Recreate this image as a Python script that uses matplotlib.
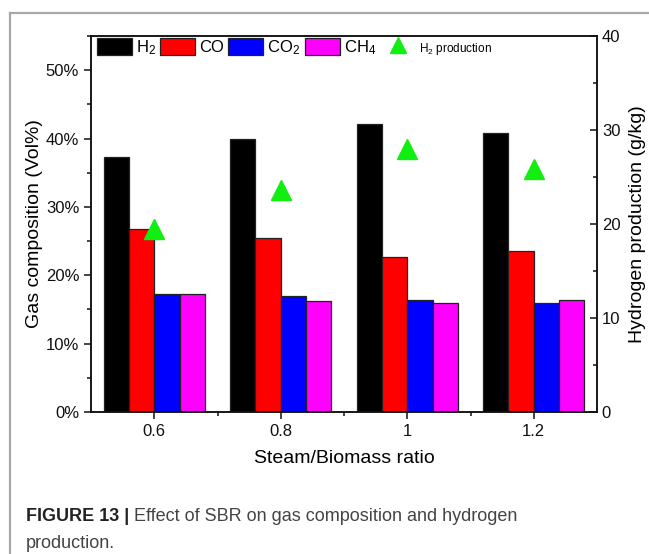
import matplotlib
matplotlib.use("Agg")
import matplotlib.pyplot as plt
from matplotlib.patches import Patch
from matplotlib.lines import Line2D
from matplotlib.ticker import FixedLocator, MultipleLocator, PercentFormatter

plt.rcParams['font.family'] = ['Liberation Sans', 'DejaVu Sans']
plt.rcParams['mathtext.fontset'] = 'custom'
plt.rcParams['mathtext.rm'] = 'Liberation Sans'
plt.rcParams['mathtext.it'] = 'Liberation Sans:italic'

# Steam/Biomass ratio groups
sbr = [0.6, 0.8, 1.0, 1.2]
sbr_labels = ['0.6', '0.8', '1', '1.2']

# Gas composition (Vol%)
h2 = [37.3, 39.9, 42.2, 40.8]
co = [26.8, 25.5, 22.6, 23.6]
co2 = [17.3, 16.9, 16.4, 16.0]
ch4 = [17.2, 16.2, 15.9, 16.4]

# Hydrogen production (g/kg)
h2_prod = [19.5, 23.6, 28.0, 25.8]

series = [h2, co, co2, ch4]
names = ['H$_2$', 'CO', 'CO$_2$', 'CH$_4$']
colors = ['#000000', '#ff0000', '#0000ff', '#ff00ff']
offsets = [-0.06, -0.02, 0.02, 0.06]
bar_w = 0.04

fig = plt.figure(figsize=(6.49, 5.54), dpi=100)
ax = fig.add_axes([91/649, 1-412/554, (597-91)/649, (412-36)/554])
ax2 = ax.twinx()

for vals, col, off in zip(series, colors, offsets):
    ax.bar([x + off for x in sbr], vals, width=bar_w, color=col,
           edgecolor='#222222', linewidth=0.9, zorder=2)

ax2.plot(sbr, h2_prod, linestyle='none', marker='^', markersize=15,
         color='#11ee11', zorder=3)

ax.set_xlim(0.5, 1.3)
ax.set_ylim(0, 55)
ax2.set_ylim(0, 40)

ax.set_xticks(sbr)
ax.set_xticklabels(sbr_labels)
ax.xaxis.set_minor_locator(FixedLocator([0.7, 0.9, 1.1]))
ax.set_yticks([0, 10, 20, 30, 40, 50])
ax.yaxis.set_minor_locator(MultipleLocator(5))
ax.yaxis.set_major_formatter(PercentFormatter(decimals=0))
ax2.set_yticks([0, 10, 20, 30, 40])
ax2.yaxis.set_minor_locator(MultipleLocator(5))

ax.tick_params(axis='both', which='both', direction='out', labelsize=12,
               right=False, top=False, width=1.1, colors='#111111')
ax.tick_params(which='major', length=5)
ax.tick_params(which='minor', length=3)
ax2.tick_params(axis='y', which='both', direction='in', labelsize=12,
                width=1.1, colors='#111111')
ax2.tick_params(which='major', length=5)
ax2.tick_params(which='minor', length=3)

for a in (ax, ax2):
    for s in a.spines.values():
        s.set_linewidth(1.1)
        s.set_color('#111111')

ax.set_xlabel('Steam/Biomass ratio', fontsize=14, labelpad=8)
ax.set_ylabel('Gas composition (Vol%)', fontsize=14, labelpad=2)
ax2.set_ylabel('Hydrogen production (g/kg)', fontsize=14, labelpad=6)

handles = [Patch(facecolor=c, edgecolor='#222222', linewidth=0.9) for c in colors]
handles.append(Line2D([], [], linestyle='none', marker='^', markersize=12,
                      color='#11ee11'))
leg = ax2.legend(handles, names + ['H$_2$ production'], ncol=5, frameon=False,
                 loc='upper left', bbox_to_anchor=(94/649, 1-35/554),
                 bbox_transform=fig.transFigure, fontsize=12,
                 handlelength=2.1, handleheight=1.25, handletextpad=0.25,
                 columnspacing=0.25, borderpad=0.15, borderaxespad=0)
leg.get_texts()[4].set_fontsize(8.5)

# figure frame and caption
fig.add_artist(Line2D([10/649, 1], [1-13/554, 1-13/554], transform=fig.transFigure,
                      color='#a8a8a8', linewidth=1.6))
fig.add_artist(Line2D([10/649, 10/649], [0, 1-13/554], transform=fig.transFigure,
                      color='#a8a8a8', linewidth=1.6))

cap_y = 1 - 521/554
head = fig.text(26/649, cap_y, 'FIGURE 13 |', fontsize=13, fontweight='bold',
                color='#222222', va='baseline', ha='left')
renderer = fig.canvas.get_renderer()
head_end = head.get_window_extent(renderer).x1
fig.text((head_end + 5) / 649, cap_y, 'Effect of SBR on gas composition and hydrogen',
         fontsize=13, color='#444444', va='baseline', ha='left')
fig.text(26/649, 1-548/554, 'production.', fontsize=13, color='#444444',
         va='baseline', ha='left')

fig.savefig('out.png', dpi=100)
